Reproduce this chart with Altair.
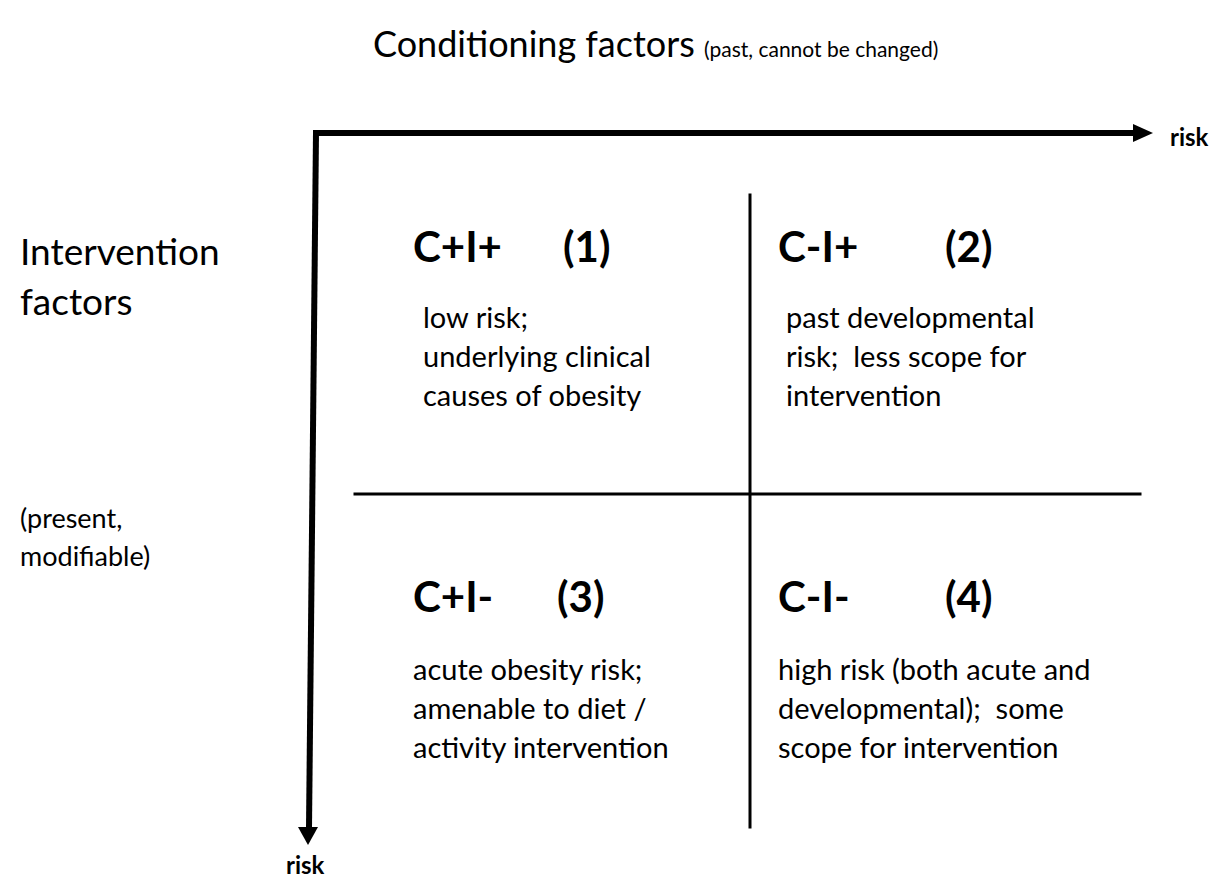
import altair as alt
import pandas as pd

FONT = "Lato"
NB = "\u00a0"

# ---- text content ----
title_main = ["Conditioning factors"]
title_sub = ["(past, cannot be changed)"]
left_main = ["Intervention", "factors"]
left_sub = ["(present,", "modifiable)"]
axis_labels = ["risk", "risk"]
quad_codes = ["C+I+", "C-I+", "C+I-", "C-I-"]
quad_nums = ["(1)", "(2)", "(3)", "(4)"]
quad_body = [
    ["low risk;", "underlying clinical", "causes of obesity"],
    ["past developmental", "risk;" + NB + " less scope for", "intervention"],
    ["acute obesity risk;", "amenable to diet /", "activity intervention"],
    ["high risk (both acute and", "developmental);" + NB + " some", "scope for intervention"],
]

# ---- layout (pixel coordinates of the page) ----
W, H = 1215, 874
quad_x = [413, 778, 413, 778]
num_x = [563, 945, 557, 945]
quad_head_y = [262, 262, 612, 612]
quad_body_x = [423, 786, 413, 778]
quad_body_y0 = [328, 328, 680, 680]
line_step = 39

xs = alt.Scale(domain=[8, 8 + W], nice=False, zero=False)
ys = alt.Scale(domain=[8, 8 + H], nice=False, zero=False, reverse=True)

def text_layer(df, size, weight="normal"):
    return alt.Chart(df).mark_text(
        font=FONT, fontSize=size, fontWeight=weight, align="left",
        baseline="alphabetic", color="black"
    ).encode(
        x=alt.X("x:Q", scale=xs, axis=None),
        y=alt.Y("y:Q", scale=ys, axis=None),
        text="t:N",
    )

# titles
t1 = text_layer(pd.DataFrame({"t": title_main, "x": [373], "y": [57]}), 36)
t2 = text_layer(pd.DataFrame({"t": title_sub, "x": [704], "y": [57]}), 21)
l1 = text_layer(pd.DataFrame({"t": left_main, "x": [20, 20], "y": [265, 315]}), 37)
l2 = text_layer(pd.DataFrame({"t": left_sub, "x": [20, 20], "y": [528, 566]}), 27)
rk = text_layer(pd.DataFrame({"t": axis_labels, "x": [1170, 286], "y": [146, 874]}), 24, "bold")

heads = text_layer(pd.DataFrame({"t": quad_codes, "x": quad_x, "y": quad_head_y}), 42, "bold")
nums = text_layer(pd.DataFrame({"t": quad_nums, "x": num_x, "y": quad_head_y}), 42, "bold")

rows = []
for q, lines in enumerate(quad_body):
    for i, ln in enumerate(lines):
        rows.append({"t": ln, "x": quad_body_x[q], "y": quad_body_y0[q] + i * line_step})
body = text_layer(pd.DataFrame(rows), 29)

# lines
seg_df = pd.DataFrame({
    "x": [316, 316, 750, 355],
    "y": [133, 133, 195, 494],
    "x2": [1136, 309, 750, 1140],
    "y2": [133, 828, 827, 494],
    "w": [6, 6, 3, 3],
})
segs = alt.Chart(seg_df).mark_rule(color="black", strokeCap="square").encode(
    x=alt.X("x:Q", scale=xs, axis=None),
    y=alt.Y("y:Q", scale=ys, axis=None),
    x2="x2:Q",
    y2="y2:Q",
    strokeWidth=alt.StrokeWidth("w:Q", scale=None, legend=None),
)

# arrowheads
head_r = alt.Chart(pd.DataFrame({"x": [1143], "y": [133]})).mark_point(
    shape="M-1,-0.9L1,0L-1,0.9Z", filled=True, color="black", opacity=1, size=400, strokeWidth=0
).encode(x=alt.X("x:Q", scale=xs, axis=None), y=alt.Y("y:Q", scale=ys, axis=None))
head_d = alt.Chart(pd.DataFrame({"x": [308], "y": [836]})).mark_point(
    shape="M-1,-0.9L1,-0.9L0,0.9Z", filled=True, color="black", opacity=1, size=400, strokeWidth=0
).encode(x=alt.X("x:Q", scale=xs, axis=None), y=alt.Y("y:Q", scale=ys, axis=None))

chart = alt.layer(segs, head_r, head_d, t1, t2, l1, l2, rk, heads, nums, body).properties(
    width=W, height=H, padding=0, autosize=alt.AutoSizeParams(type="none")
).configure_view(stroke=None)

chart.save("out.html", embed_options={"renderer": "svg", "actions": False})
